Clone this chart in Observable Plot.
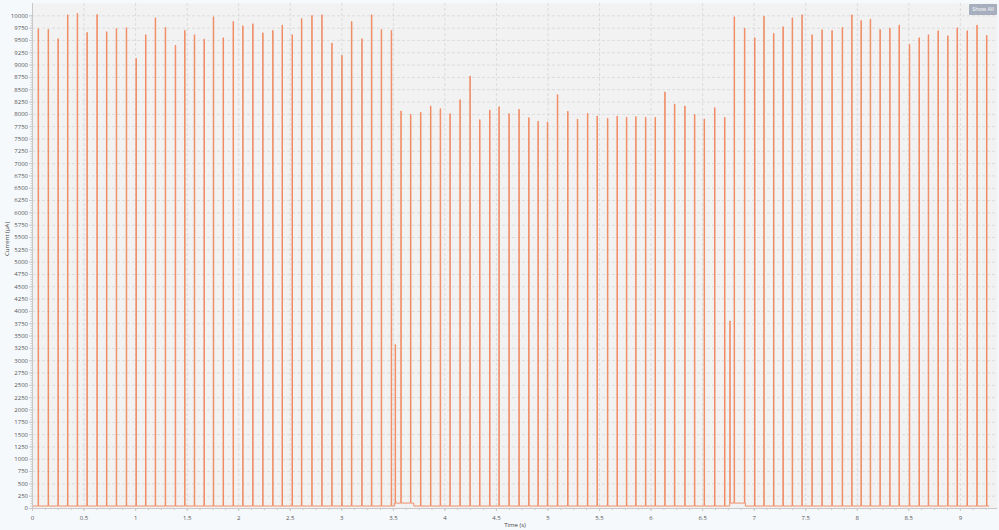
<!DOCTYPE html>
<html>
<head>
<meta charset="utf-8">
<script src="https://cdn.jsdelivr.net/npm/d3@7"></script>
<script src="https://cdn.jsdelivr.net/npm/@observablehq/plot@0.6"></script>
<style>
  html, body { margin: 0; padding: 0; background: #f6f9fc; }
  #wrap { position: relative; width: 999px; height: 530px; }
  #btn { position: absolute; left: 969px; top: 4px; width: 28px; height: 11px; background: #a7afbe;
         color: #fff; font: 5.5px "Open Sans", sans-serif; line-height: 11px; text-align: center; border-radius: 1px; }
</style>
</head>
<body>
<div id="wrap"><div id="btn">Show All</div></div>
<script>
// ---- data ----
const spikeTimes = [
  0.054, 0.151, 0.246, 0.339, 0.433, 0.527, 0.624, 0.717, 0.812, 0.909,
  1.003, 1.096, 1.190, 1.287, 1.384, 1.475, 1.569, 1.663, 1.753, 1.848,
  1.945, 2.038, 2.135, 2.232, 2.329, 2.420, 2.517, 2.608, 2.708, 2.805,
  2.902, 2.999, 3.093, 3.193, 3.287, 3.382, 3.479, 3.517, 3.572, 3.666,
  3.763, 3.860, 3.954, 4.048, 4.145, 4.242, 4.336, 4.433, 4.523, 4.620,
  4.717, 4.812, 4.902, 4.993, 5.090, 5.190, 5.284, 5.382, 5.475, 5.576,
  5.669, 5.760, 5.850, 5.945, 6.038, 6.132, 6.226, 6.326, 6.420, 6.514,
  6.615, 6.712, 6.763, 6.805, 6.905, 7.003, 7.093, 7.187, 7.278, 7.368,
  7.462, 7.559, 7.656, 7.753, 7.853, 7.945, 8.035, 8.125, 8.219, 8.314,
  8.404, 8.504, 8.598, 8.688, 8.782, 8.876, 8.967, 9.064, 9.159, 9.253
];
const spikePeaks = [
  9737, 9723, 9534, 10020, 10047, 9662, 10027, 9676, 9743, 9757,
  9135, 9615, 9959, 9764, 9399, 9703, 9615, 9527, 9980, 9554,
  9885, 9797, 9838, 9655, 9703, 9811, 9615, 9946, 10007, 10020,
  9446, 9196, 9885, 9534, 10020, 9723, 9703, 3327, 8068, 8000,
  8041, 8169, 8115, 8014, 8297, 8777, 7892, 8088, 8155, 8014,
  8101, 7932, 7858, 7845, 8399, 8061, 7905, 8020, 7966, 7919,
  7966, 7939, 7953, 7939, 7939, 8453, 8209, 8169, 8000, 7905,
  8135, 7939, 3806, 9980, 9750, 9554, 9993, 9642, 9777, 9959,
  10020, 9615, 9716, 9703, 9764, 10020, 9905, 9932, 9723, 9750,
  9811, 9419, 9554, 9615, 9696, 9595, 9757, 9696, 9811, 9601
];
const baselineLevel = 50;
const plateauStarts = [3.513, 6.763];
const plateauEnds = [3.698, 6.915];
const plateauLevels = [110, 110];
const endTime = 9.275;
const xTicks = d3.range(0, 9.01, 0.5);
const xMinor = d3.range(0, 9.36, 0.125);
const yTicks = d3.range(0, 10001, 250);
const yMinor = d3.range(0, 10001, 50);

// ---- build the trace from the arrays ----
const pulseWidth = 0.005;
const events = [];
spikeTimes.forEach((t, i) => events.push({t, kind: "spike", peak: spikePeaks[i]}));
plateauStarts.forEach((t, i) => events.push({t, kind: "ps", level: plateauLevels[i]}));
plateauEnds.forEach((t) => events.push({t, kind: "pe"}));
events.sort((a, b) => a.t - b.t || (a.kind === "ps" ? -1 : 1));
let base = baselineLevel;
const pts = [{t: 0, v: base}];
for (const e of events) {
  if (e.kind === "ps") { pts.push({t: e.t, v: base}); base = e.level; pts.push({t: e.t, v: base}); }
  else if (e.kind === "pe") { pts.push({t: e.t, v: base}); base = baselineLevel; pts.push({t: e.t, v: base}); }
  else {
    pts.push({t: e.t, v: base}, {t: e.t, v: e.peak}, {t: e.t + pulseWidth, v: e.peak}, {t: e.t + pulseWidth, v: base});
  }
}
pts.push({t: endTime, v: base});

const fmt = d => String(+d.toFixed(2));
const font = "Open Sans";
const chart = Plot.plot({
  width: 999, height: 530,
  marginLeft: 32, marginRight: 2, marginTop: 3, marginBottom: 22,
  style: {background: "transparent", fontFamily: font, fontSize: "6px", color: "#555"},
  x: {domain: [0, 9.36]},
  y: {domain: [0, 10250]},
  marks: [
    Plot.frame({fill: "#f2f2f2", stroke: null}),
    Plot.gridY(yTicks, {stroke: "#dcdcdc", strokeOpacity: 1, strokeDasharray: "3,2"}),
    Plot.gridX(xTicks, {stroke: "#dcdcdc", strokeOpacity: 1, strokeDasharray: "3,2"}),
    Plot.line(pts, {x: "t", y: "v", stroke: "#f0845a", strokeWidth: 0.9}),
    Plot.ruleX([0], {stroke: "#c8c8c8"}),
    Plot.ruleY([0], {stroke: "#c8c8c8"}),
    Plot.axisY(yMinor, {tickSize: 1.5, text: null, stroke: "#c8c8c8", label: null}),
    Plot.axisY(yTicks, {tickSize: 3, tickPadding: 1.5, tickFormat: fmt, stroke: "#c8c8c8", fill: "#555", label: null}),
    Plot.axisX(xMinor, {tickSize: 2, text: null, stroke: "#c8c8c8", label: null}),
    Plot.axisX(xTicks, {tickSize: 3, tickPadding: 4, tickFormat: fmt, stroke: "#c8c8c8", fill: "#555", label: null}),
    Plot.text(["Current (µA)"], {frameAnchor: "left", dx: -25, rotate: -90, fill: "#444", fontSize: 6}),
    Plot.text(["Time (s)"], {frameAnchor: "bottom", dy: 18, fill: "#444", fontSize: 6})
  ]
});
document.getElementById("wrap").prepend(chart);
</script>
</body>
</html>
